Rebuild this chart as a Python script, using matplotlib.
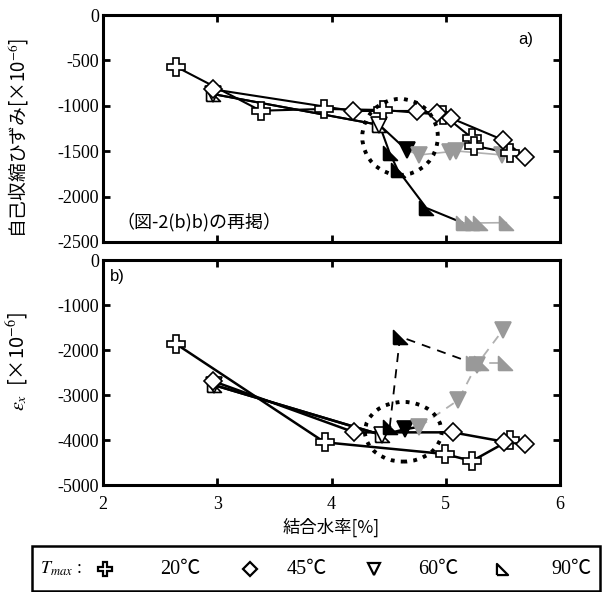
import numpy as np
import matplotlib
matplotlib.use("Agg")
import matplotlib.pyplot as plt
from matplotlib.patches import Ellipse, Rectangle
from matplotlib.lines import Line2D

plt.rcParams['font.serif'] = ['Liberation Serif', 'DejaVu Serif']
plt.rcParams['font.family'] = ['serif']
plt.rcParams['mathtext.fontset'] = 'stix'
plt.rcParams['axes.unicode_minus'] = False

# ---- data ----
# panel a) autogenous shrinkage
a20_x = [2.64, 3.38, 3.93, 4.45, 4.98, 5.23, 5.25, 5.56]
a20_y = [-570, -1054, -1035, -1046, -1100, -1355, -1440, -1520]
a45_x = [2.96, 4.19, 4.75, 4.92, 5.05, 5.50, 5.69]
a45_y = [-818, -1057, -1057, -1080, -1138, -1376, -1560]
a60_open_x = [2.96, 4.42]
a60_open_y = [-870, -1211]
a60_black_x = [4.66]
a60_black_y = [-1490]
a60_grey_x = [4.77, 5.04, 5.09, 5.49]
a60_grey_y = [-1541, -1505, -1497, -1541]
a90_open_x = [2.96, 4.42]
a90_open_y = [-870, -1211]
a90_black_x = [4.51, 4.58, 4.83]
a90_black_y = [-1523, -1707, -2125]
a90_grey_x = [5.15, 5.23, 5.30, 5.53]
a90_grey_y = [-2290, -2290, -2290, -2287]

# panel b) eps_x
b20_x = [2.64, 3.94, 4.99, 5.23, 5.56]
b20_y = [-1867, -4051, -4311, -4467, -4000]
b45_x = [2.96, 4.20, 5.06, 5.51, 5.69]
b45_y = [-2689, -3830, -3830, -4037, -4096]
b60_open_x = [2.97, 4.44]
b60_open_y = [-2778, -3889]
b60_black_x = [4.64]
b60_black_y = [-3763]
b60_grey_x = [4.77, 5.11, 5.27, 5.50]
b60_grey_y = [-3704, -3111, -2333, -1556]
b90_open_x = [2.97, 4.44]
b90_open_y = [-2778, -3889]
b90_black_x = [4.51, 4.60]
b90_black_y = [-3703, -1704]
b90_grey_x = [5.24, 5.31, 5.52]
b90_grey_y = [-2296, -2296, -2296]

tmax_keys = ['20', '45', '60', '90']
tmax_labels = ['20\u2103', '45\u2103', '60\u2103', '90\u2103']

GREY = '#999999'
LGREY = '#b0b0b0'
RTRI = [(-1, -1), (1, -1), (-1, 1), (-1, -1)]
MK = {'20': ('P', 13), '45': ('D', 9), '60': ('v', 11), '90': (RTRI, 10)}
SERIF = ['Liberation Serif', 'DejaVu Serif']
JP = ['Noto Sans CJK JP', 'DejaVu Sans']


def pts(ax, x, y, key, face, edge='black', z=4):
    m, s = MK[key]
    ax.plot(x, y, ls='none', marker=m, ms=s, mfc=face, mec=edge, mew=1.2, zorder=z)


def seg(ax, x, y, color='black', ls='-', lw=1.5):
    ax.plot(x, y, color=color, ls=ls, lw=lw, zorder=2)


def style(ax):
    for sp in ax.spines.values():
        sp.set_linewidth(2.2)
    ax.tick_params(direction='in', length=5, width=2, top=True, right=True,
                   labelsize=13)
    ax.tick_params(axis='x', pad=8)
    ax.tick_params(axis='y', pad=3)
    ax.set_xlim(2, 6)
    ax.set_xticks([2, 3, 4, 5, 6])


fig = plt.figure(figsize=(6.05, 5.92), dpi=100)
W, H = 605, 592
ax1 = fig.add_axes([103 / W, 1 - 242 / H, 457 / W, 227 / H])
ax2 = fig.add_axes([103 / W, 1 - 485 / H, 457 / W, 225 / H])

# ---------- panel a ----------
seg(ax1, a20_x, a20_y)
seg(ax1, a45_x, a45_y)
seg(ax1, a60_open_x + a60_black_x, a60_open_y + a60_black_y)
seg(ax1, a60_black_x + a60_grey_x, a60_black_y + a60_grey_y, color=LGREY, lw=1.2)
seg(ax1, a90_open_x + a90_black_x + a90_grey_x[:1], a90_open_y + a90_black_y + a90_grey_y[:1])
seg(ax1, a90_grey_x, a90_grey_y, color=LGREY, lw=1.2)
pts(ax1, a90_open_x, a90_open_y, '90', 'white')
pts(ax1, a60_open_x, a60_open_y, '60', 'white')
pts(ax1, a90_black_x, a90_black_y, '90', 'black')
pts(ax1, a60_black_x, a60_black_y, '60', 'black')
pts(ax1, a90_grey_x, a90_grey_y, '90', GREY, GREY)
pts(ax1, a60_grey_x, a60_grey_y, '60', GREY, GREY)
pts(ax1, a20_x, a20_y, '20', 'white')
pts(ax1, a45_x, a45_y, '45', 'white')
ax1.add_patch(Ellipse((4.60, -1343), 0.661, 837, fill=False, ls=(0, (1, 1.6)),
                      lw=2.8, color='black', zorder=5))
style(ax1)
ax1.set_ylim(-2500, 0)
ax1.set_yticks([0, -500, -1000, -1500, -2000, -2500])
ax1.set_xticklabels([])
ax1.text(0.941, 0.89, 'a)', transform=ax1.transAxes, ha='right', va='center',
         fontsize=12, family=['Liberation Sans'])
ax1.text(0.03, 0.09, '（図-2(b)b)の再掲）', transform=ax1.transAxes, ha='left',
         va='center', fontsize=13, family=JP)
ax1.set_ylabel('自己収縮ひずみ[×10$^{-6}$]', fontsize=13.5, family=JP)
ax1.yaxis.set_label_coords(-0.158, 0.46)

# ---------- panel b ----------
seg(ax2, b20_x, b20_y, lw=1.8)
seg(ax2, b45_x, b45_y, lw=1.8)
seg(ax2, b60_open_x + b60_black_x + b60_grey_x[:1], b60_open_y + b60_black_y + b60_grey_y[:1], lw=1.8)
seg(ax2, b60_grey_x, b60_grey_y, color=LGREY, ls=(0, (5, 4)), lw=1.3)
seg(ax2, b90_open_x + b90_black_x[:1], b90_open_y + b90_black_y[:1], lw=1.8)
seg(ax2, b90_black_x + b90_grey_x[:1], b90_black_y + b90_grey_y[:1], ls=(0, (5, 4)), lw=1.3)
seg(ax2, b90_grey_x, b90_grey_y, color=LGREY, ls=(0, (5, 4)), lw=1.3)
pts(ax2, b90_open_x, b90_open_y, '90', 'white')
pts(ax2, b60_open_x, b60_open_y, '60', 'white')
pts(ax2, b90_black_x, b90_black_y, '90', 'black')
pts(ax2, b60_black_x, b60_black_y, '60', 'black')
pts(ax2, b90_grey_x, b90_grey_y, '90', GREY, GREY)
pts(ax2, b60_grey_x, b60_grey_y, '60', GREY, GREY)
pts(ax2, b20_x, b20_y, '20', 'white')
pts(ax2, b45_x, b45_y, '45', 'white')
ax2.add_patch(Ellipse((4.628, -3817), 0.670, 1326, fill=False, ls=(0, (1, 1.6)),
                      lw=2.8, color='black', zorder=5))
style(ax2)
ax2.set_ylim(-5000, 0)
ax2.set_yticks([0, -1000, -2000, -3000, -4000, -5000])
ax2.text(0.015, 0.925, 'b)', transform=ax2.transAxes, ha='left', va='center',
         fontsize=12, family=['Liberation Sans'])
ax2.set_ylabel(r'$\varepsilon_x$  [×10$^{-6}$]', fontsize=14.5, family=JP)
ax2.yaxis.set_label_coords(-0.158, 0.55)
ax2.set_xlabel('結合水率[%]', fontsize=12.5, family=JP, labelpad=3)

for ax in (ax1, ax2):
    for lab in ax.get_xticklabels() + ax.get_yticklabels():
        lab.set_family(SERIF)

# ---------- legend box ----------
box_top = 546
row_y = 1 - 569 / H
fig.add_artist(Rectangle((32 / W, 0.002), (600 - 32) / W, 1 - box_top / H - 0.002,
                         transform=fig.transFigure, fill=False, lw=1.8, color='black'))
fig.text(40 / W, row_y, '$T_{max}$ :', fontsize=13, va='center', ha='left')
key_x = [105, 250, 374, 502]
lab_x = [160, 287, 418, 551]
for key, kx, lx, lab in zip(tmax_keys, key_x, lab_x, tmax_labels):
    m, s = MK[key]
    fig.add_artist(Line2D([kx / W], [row_y], transform=fig.transFigure, ls='none',
                          marker=m, ms=s * 0.8, mfc='white', mec='black', mew=1.6))
    fig.text(lx / W, row_y, lab, fontsize=14.5, va='center', ha='left',
             family=['Liberation Serif', 'Noto Sans CJK JP'])

fig.savefig('out.png', dpi=100)
